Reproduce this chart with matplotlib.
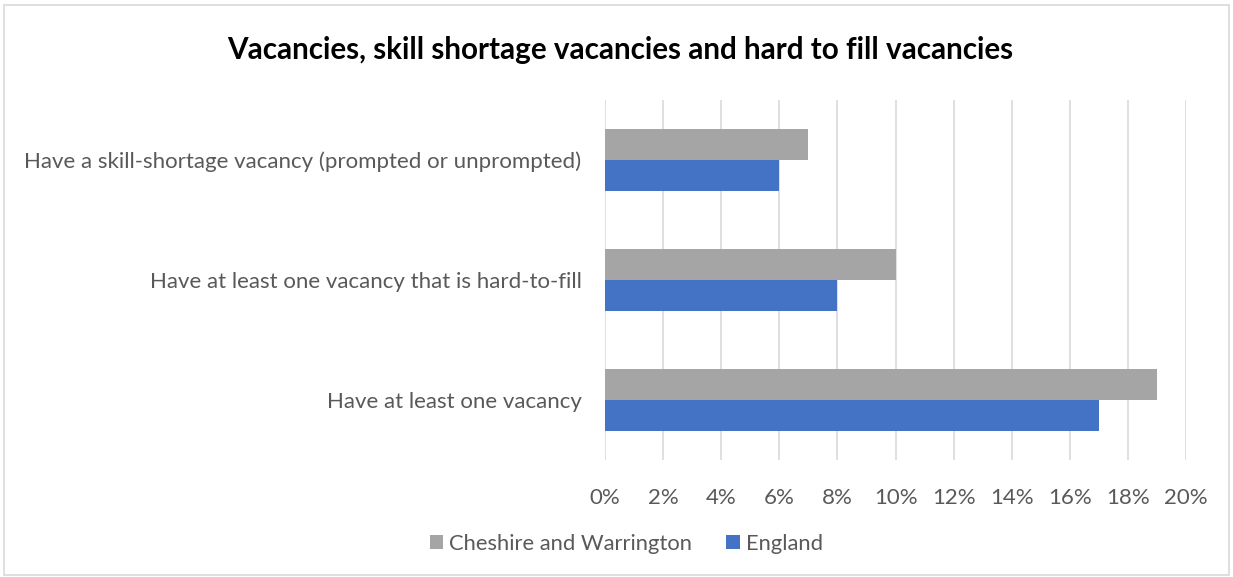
import numpy as np
import matplotlib.pyplot as plt
from matplotlib.patches import Rectangle

# --------------------------------------------------
# DATA
# --------------------------------------------------
categories = [
    "Have at least one vacancy",
    "Have at least one vacancy that is hard-to-fill",
    "Have a skill-shortage vacancy (prompted or unprompted)",
]
cheshire = [19, 10, 7]
england = [17, 8, 6]
series_names = ["Cheshire and Warrington", "England"]
xticks = list(range(0, 21, 2))

GREY = "#a5a5a5"
BLUE = "#4472c4"
TEXT = "#595959"

plt.rcParams["font.family"] = ["Lato", "DejaVu Sans"]

# --------------------------------------------------
# PLOT
# --------------------------------------------------
fig = plt.figure(figsize=(12.33, 5.77), dpi=100)
ax = fig.add_axes([0.4907, 0.2028, 0.4712, 0.6239])

y = np.arange(len(categories))
h = 0.26
ax.barh(y + h / 2, cheshire, height=h, color=GREY, label=series_names[0], zorder=3)
ax.barh(y - h / 2, england, height=h, color=BLUE, label=series_names[1], zorder=3)

ax.set_xlim(0, 20)
ax.set_ylim(-0.5, 2.5)
ax.set_xticks(xticks)
ax.set_xticklabels([f"{t}%" for t in xticks])
ax.set_yticks(y)
ax.set_yticklabels(categories)
ax.tick_params(axis="both", length=0, labelsize=16, colors=TEXT)
ax.tick_params(axis="x", pad=20)
ax.tick_params(axis="y", pad=17)
ax.grid(axis="x", color="#d9d9d9", linewidth=1.2, zorder=0)
for s in ax.spines.values():
    s.set_visible(False)

fig.text(0.503, 0.913, "Vacancies, skill shortage vacancies and hard to fill vacancies",
         ha="center", va="center", fontsize=21.3, fontweight="bold", color="black")

fig.legend(loc="center", bbox_to_anchor=(0.508, 0.057), ncol=2, frameon=False,
           fontsize=15.8, labelcolor=TEXT, handlelength=0.6, handleheight=0.6,
           handletextpad=0.3, columnspacing=1.55)

# chart border
fig.patches.append(Rectangle((0.003, 0.003), 0.994, 0.988, transform=fig.transFigure,
                             fill=False, edgecolor="#d9d9d9", linewidth=1.2))

plt.savefig("out.png", dpi=100)
